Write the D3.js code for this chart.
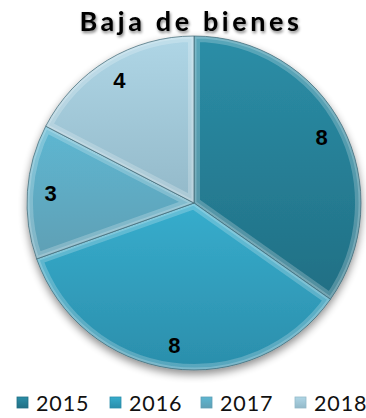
<!DOCTYPE html>
<html>
<head>
<meta charset="utf-8">
<script src="https://cdn.jsdelivr.net/npm/d3@7"></script>
<style>
  body { margin: 0; background: #fff; }
  svg { display: block; }
</style>
</head>
<body>
<svg id="chart" width="366" height="418"></svg>
<script>
// data
var years = ["2015", "2016", "2017", "2018"];
var values = [8, 8, 3, 4];
var colors = ["#2b8ea7", "#37adcd", "#5db7d2", "#afd6e6"];
var darks = ["#216f84", "#2b8eab", "#5f9fb4", "#93b9c9"];

var width = 366, height = 418;
var cx = 194, cy = 203, r = 167;

var svg = d3.select("#chart");
var defs = svg.append("defs");

// shadow under the pie
var sh = defs.append("filter").attr("id", "shadow")
  .attr("x", "-20%").attr("y", "-20%").attr("width", "140%").attr("height", "140%");
sh.append("feGaussianBlur").attr("in", "SourceAlpha").attr("stdDeviation", 4);
sh.append("feOffset").attr("dx", 0).attr("dy", 4).attr("result", "b");
sh.append("feComponentTransfer").append("feFuncA").attr("type", "linear").attr("slope", 0.45);
var m = sh.append("feMerge");
m.append("feMergeNode");
m.append("feMergeNode").attr("in", "SourceGraphic");

var ts = defs.append("filter").attr("id", "tshadow")
  .attr("x", "-10%").attr("y", "-30%").attr("width", "120%").attr("height", "160%");
ts.append("feGaussianBlur").attr("in", "SourceAlpha").attr("stdDeviation", 1.5);
ts.append("feOffset").attr("dx", 1).attr("dy", 2).attr("result", "b");
ts.append("feComponentTransfer").append("feFuncA").attr("type", "linear").attr("slope", 0.5);
var m2 = ts.append("feMerge");
m2.append("feMergeNode");
m2.append("feMergeNode").attr("in", "SourceGraphic");

years.forEach(function(y, i) {
  var g = defs.append("linearGradient").attr("id", "grad" + i)
    .attr("x1", 0).attr("y1", 0).attr("x2", 0).attr("y2", 1);
  g.append("stop").attr("offset", "0%").attr("stop-color", colors[i]);
  g.append("stop").attr("offset", "100%").attr("stop-color", darks[i]);
});

var pie = d3.pie().sort(null).value(function(d) { return d; });
var arcs = pie(values);
var arc = d3.arc().innerRadius(0).outerRadius(r);
var labelArc = d3.arc().innerRadius(r * 0.86).outerRadius(r * 0.86);

var pieG = svg.append("g")
  .attr("transform", "translate(" + cx + "," + cy + ")");

var base = pieG.append("g").attr("filter", "url(#shadow)");

arcs.forEach(function(d, i) {
  defs.append("clipPath").attr("id", "clip" + i)
    .append("path").attr("d", arc(d));
});

var slices = base.selectAll("g.slice")
  .data(arcs)
  .enter().append("g")
  .attr("class", "slice");

slices.append("path")
  .attr("d", arc)
  .attr("fill", function(d, i) { return "url(#grad" + i + ")"; });

// bevel highlight along the slice edges
slices.append("path")
  .attr("d", arc)
  .attr("fill", "none")
  .attr("stroke", "#ffffff")
  .attr("stroke-opacity", 0.22)
  .attr("stroke-width", 12)
  .attr("clip-path", function(d, i) { return "url(#clip" + i + ")"; });

slices.append("path")
  .attr("d", arc)
  .attr("fill", "none")
  .attr("stroke", "#ffffff")
  .attr("stroke-opacity", 0.2)
  .attr("stroke-width", 5)
  .attr("clip-path", function(d, i) { return "url(#clip" + i + ")"; });

slices.append("path")
  .attr("d", arc)
  .attr("fill", "none")
  .attr("stroke", "#3d6470")
  .attr("stroke-opacity", 0.7)
  .attr("stroke-width", 1);

// value labels
pieG.selectAll("text.val")
  .data(arcs)
  .enter().append("text")
  .attr("class", "val")
  .attr("transform", function(d) { return "translate(" + labelArc.centroid(d) + ")"; })
  .attr("text-anchor", "middle")
  .attr("dy", "0.36em")
  .attr("font-family", "Liberation Sans, Arial, sans-serif")
  .attr("font-weight", "bold")
  .attr("font-size", 22)
  .attr("fill", "#000")
  .text(function(d) { return d.data; });

// title
svg.append("text")
  .attr("x", 191)
  .attr("y", 31)
  .attr("text-anchor", "middle")
  .attr("font-family", "Lato, 'DejaVu Sans', sans-serif")
  .attr("font-weight", "bold")
  .attr("font-size", 27)
  .attr("letter-spacing", 3.6)
  .attr("fill", "#000")
  .attr("filter", "url(#tshadow)")
  .text("Baja de bienes");

// legend
var legX = [17, 110, 201, 295];
var legend = svg.selectAll("g.leg")
  .data(years)
  .enter().append("g")
  .attr("class", "leg")
  .attr("transform", function(d, i) { return "translate(" + legX[i] + ",397)"; });

legend.append("rect")
  .attr("width", 11).attr("height", 11)
  .attr("fill", function(d, i) { return "url(#grad" + i + ")"; })
  .attr("stroke", function(d, i) { return darks[i]; })
  .attr("stroke-width", 0.8);

legend.append("text")
  .attr("x", 19)
  .attr("y", 13.5)
  .attr("font-family", "Lato, sans-serif")
  .attr("font-size", 21.5)
  .attr("letter-spacing", 0.9)
  .attr("fill", "#111")
  .text(function(d) { return d; });
</script>
</body>
</html>
